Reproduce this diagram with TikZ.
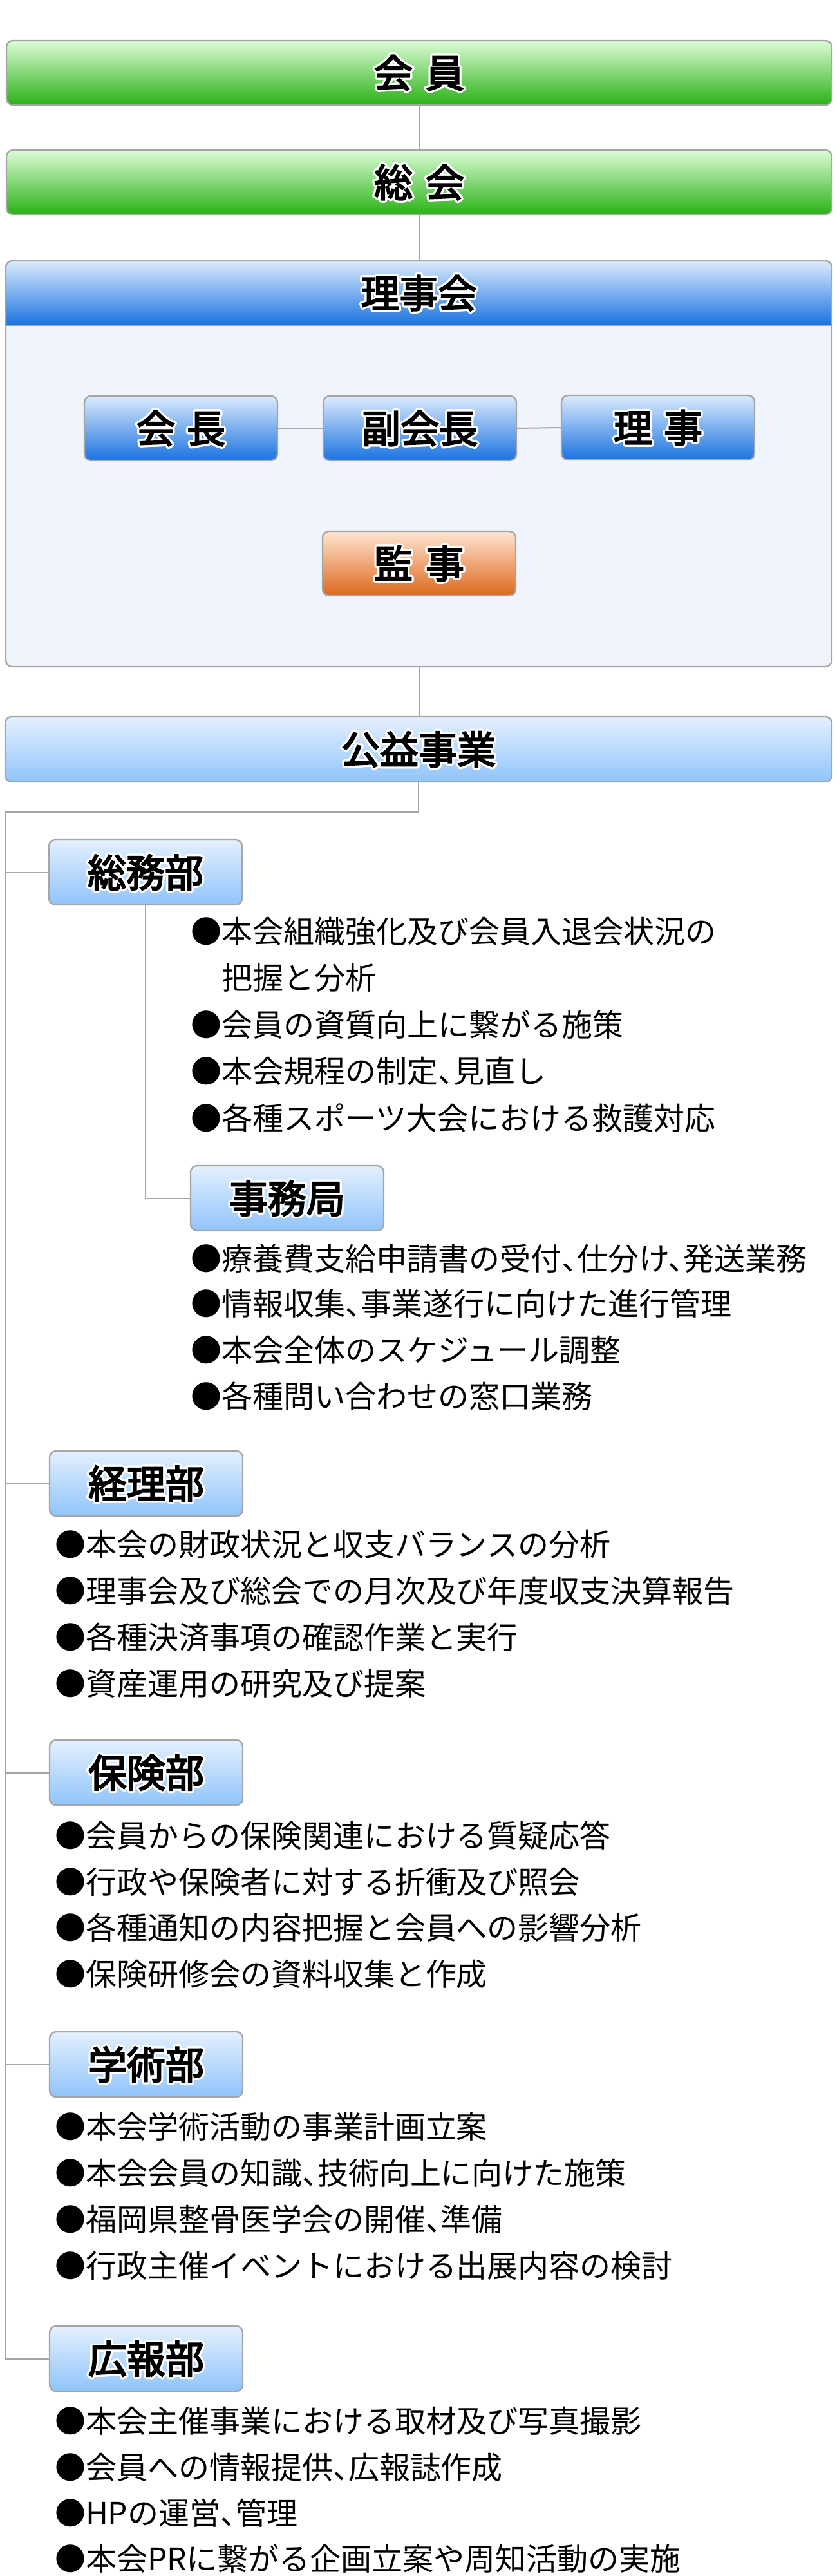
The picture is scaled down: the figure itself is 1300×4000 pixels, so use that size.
\documentclass[tikz,border=0pt]{standalone}
\usepackage{fontspec}
\newfontfamily\cjk{Noto Sans CJK JP}
\newfontfamily\cjkm[FakeBold=3.5]{Noto Sans CJK JP}
\newfontfamily\cjkh[RawFeature={+halt}]{Noto Sans CJK JP}
\definecolor{gtop}{RGB}{220,252,214}
\definecolor{gbot}{RGB}{42,178,22}
\definecolor{btop}{RGB}{220,235,253}
\definecolor{bbot}{RGB}{26,115,224}
\definecolor{ltop}{RGB}{228,240,254}
\definecolor{lbot}{RGB}{144,196,251}
\definecolor{otop}{RGB}{254,230,210}
\definecolor{obot}{RGB}{221,104,28}
\definecolor{panelbg}{RGB}{240,245,253}
\definecolor{linegray}{RGB}{166,166,166}
\newcommand\halocopy[3]{\rlap{\hspace*{#1}\raisebox{#2}{\textcolor{white}{#3}}}}
\newcommand\halo[1]{\leavevmode
 \halocopy{1.6pt}{0pt}{#1}\halocopy{-1.6pt}{0pt}{#1}\halocopy{0pt}{1.6pt}{#1}\halocopy{0pt}{-1.6pt}{#1}%
 \halocopy{1.13pt}{1.13pt}{#1}\halocopy{-1.13pt}{1.13pt}{#1}\halocopy{1.13pt}{-1.13pt}{#1}\halocopy{-1.13pt}{-1.13pt}{#1}%
 \halocopy{1.48pt}{0.61pt}{#1}\halocopy{-1.48pt}{0.61pt}{#1}\halocopy{1.48pt}{-0.61pt}{#1}\halocopy{-1.48pt}{-0.61pt}{#1}%
 \halocopy{0.61pt}{1.48pt}{#1}\halocopy{-0.61pt}{1.48pt}{#1}\halocopy{0.61pt}{-1.48pt}{#1}\halocopy{-0.61pt}{-1.48pt}{#1}%
 #1}
\tikzset{
 labfont/.style={font=\cjkm\fontsize{30pt}{36pt}\selectfont},
 box/.style={draw=linegray, line width=1.2pt, rounded corners=5pt, inner sep=0pt, outer sep=0pt,
   anchor=north west, labfont, text=black},
 greenbox/.style={box, top color=gtop, bottom color=gbot, minimum width=641pt, minimum height=50pt},
 bluebox/.style={box, top color=btop, bottom color=bbot, minimum width=150pt, minimum height=50pt},
 orangebox/.style={box, top color=otop, bottom color=obot, minimum width=150pt, minimum height=50pt},
 deptbox/.style={box, top color=ltop, bottom color=lbot, minimum width=150pt, minimum height=50.5pt},
 conn/.style={draw=linegray, line width=1pt},
 item/.style={anchor=base west, inner sep=0pt, outer sep=0pt, font=\cjkh\fontsize{24pt}{29pt}\selectfont, text=black},
}
\begin{document}
\begin{tikzpicture}[x=0.5pt, y=-0.5pt]
\useasboundingbox (0,0) rectangle (1300,4000);
% top
\node[greenbox] (kaiin) at (10,63) {\halo{会\hspace{10pt}員}};
\node[greenbox] (soukai) at (10,233) {\halo{総\hspace{10pt}会}};
% board panel
\node[anchor=north west, inner sep=0pt, outer sep=0pt, fill=panelbg, rounded corners=5pt,
  minimum width=641.5pt, minimum height=315pt] (riji) at (9,405) {};
\shade[top color=btop, bottom color=bbot] (9,505) -- (9,415) arc[start angle=180, end angle=270, radius=10]
  -- (1282,405) arc[start angle=270, end angle=360, radius=10] -- (1292,505) -- cycle;
\draw[conn, line width=1.2pt] (9,505) -- (1292,505);
\draw[draw=linegray, line width=1.2pt, rounded corners=5pt] (riji.north west) rectangle (riji.south east);
\node[labfont, inner sep=0pt] (rijilabel) at (650.5,455) {\halo{理事会}};
\node[bluebox] (kaicho) at (131,615) {\halo{会\hspace{9pt}長}};
\node[bluebox] (fuku) at (502,615) {\halo{副会長}};
\node[bluebox] (riji2) at (872,614) {\halo{理\hspace{9pt}事}};
\node[orangebox] (kanji) at (501,825) {\halo{監\hspace{10pt}事}};
% public works
\node[box, top color=ltop, bottom color=lbot, minimum width=642pt, minimum height=50.5pt] (koueki) at (8,1113) {\halo{公益事業}};
% departments
\node[deptbox] (soumu) at (76,1304) {\halo{総務部}};
\node[deptbox] (jimu) at (296,1810) {\halo{事務局}};
\node[deptbox] (keiri) at (77,2253) {\halo{経理部}};
\node[deptbox] (hoken) at (77,2702) {\halo{保険部}};
\node[deptbox] (gaku) at (77,3155) {\halo{学術部}};
\node[deptbox] (kouhou) at (77,3612) {\halo{広報部}};
% connectors
\coordinate (ttop) at (8,1261);
\draw[conn] (kaiin.south) -- (soukai.north);
\draw[conn] (soukai.south) -- (soukai.south |- riji.north);
\draw[conn] (kaicho.east) -- (fuku.west);
\draw[conn] (fuku.east) -- (riji2.west);
\draw[conn] (riji.south) -- (riji.south |- koueki.north);
\draw[conn] (koueki.south) |- (ttop) -- (ttop |- kouhou.west) -- (kouhou.west);
\draw[conn] (ttop |- soumu.west) -- (soumu.west);
\draw[conn] (ttop |- keiri.west) -- (keiri.west);
\draw[conn] (ttop |- hoken.west) -- (hoken.west);
\draw[conn] (ttop |- gaku.west) -- (gaku.west);
\draw[conn] (soumu.south) |- (jimu.west);
% items
\node[item] (s1) at (296,1464) {●本会組織強化及び会員入退会状況の};
\node[item] (s1b) at (296,1536) {　把握と分析};
\node[item] (s2) at (296,1609) {●会員の資質向上に繋がる施策};
\node[item] (s3) at (296,1681) {●本会規程の制定、見直し};
\node[item] (s4) at (296,1754) {●各種スポーツ大会における救護対応};
\node[item] (j1) at (296,1972) {●療養費支給申請書の受付、仕分け、発送業務};
\node[item] (j2) at (296,2042) {●情報収集、事業遂行に向けた進行管理};
\node[item] (j3) at (296,2114) {●本会全体のスケジュール調整};
\node[item] (j4) at (296,2186) {●各種問い合わせの窓口業務};
\node[item] (k1) at (85,2416) {●本会の財政状況と収支バランスの分析};
\node[item] (k2) at (85,2488) {●理事会及び総会での月次及び年度収支決算報告};
\node[item] (k3) at (85,2560) {●各種決済事項の確認作業と実行};
\node[item] (k4) at (85,2632) {●資産運用の研究及び提案};
\node[item] (h1) at (85,2868) {●会員からの保険関連における質疑応答};
\node[item] (h2) at (85,2940) {●行政や保険者に対する折衝及び照会};
\node[item] (h3) at (85,3011) {●各種通知の内容把握と会員への影響分析};
\node[item] (h4) at (85,3083) {●保険研修会の資料収集と作成};
\node[item] (g1) at (85,3320) {●本会学術活動の事業計画立案};
\node[item] (g2) at (85,3392) {●本会会員の知識、技術向上に向けた施策};
\node[item] (g3) at (85,3464) {●福岡県整骨医学会の開催、準備};
\node[item] (g4) at (85,3536) {●行政主催イベントにおける出展内容の検討};
\node[item] (p1) at (85,3777) {●本会主催事業における取材及び写真撮影};
\node[item] (p2) at (85,3849) {●会員への情報提供、広報誌作成};
\node[item] (p3) at (85,3920) {●HPの運営、管理};
\node[item] (p4) at (85,3991) {●本会PRに繋がる企画立案や周知活動の実施};
\end{tikzpicture}
\end{document}
